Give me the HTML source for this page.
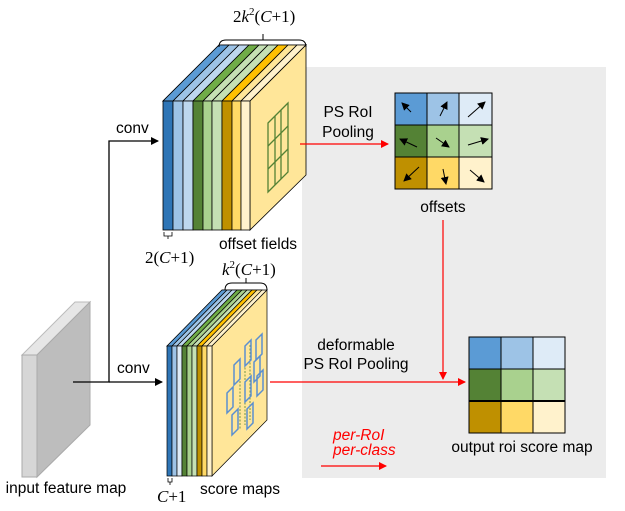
<!DOCTYPE html>
<html><head><meta charset="utf-8"><style>
body{margin:0;background:#fff}
svg{display:block}
text{font-family:"Liberation Sans",sans-serif;font-size:15.5px;fill:#000}
.s{font-family:"Liberation Serif",serif;font-size:17px}
</style></head><body>
<svg width="625" height="511" viewBox="0 0 625 511" xmlns="http://www.w3.org/2000/svg">
<defs>
<marker id="ak" markerWidth="8" markerHeight="8" refX="7" refY="4" orient="auto" markerUnits="userSpaceOnUse"><path d="M0,0 L8,4 L0,8z" fill="#000"/></marker>
<marker id="ar" markerWidth="8" markerHeight="8" refX="7" refY="4" orient="auto" markerUnits="userSpaceOnUse"><path d="M0,0 L8,4 L0,8z" fill="red"/></marker>
</defs>
<rect x="302" y="67" width="304" height="411" fill="#ececec"/>

<!-- input feature map -->
<polygon points="22,355 37,355 90,302 75,302" fill="#e6e6e6" stroke="#bbb"/>
<polygon points="37,355 90,302 90,425 37,477" fill="#bdbdbd" stroke="#aaa"/>
<rect x="22" y="355" width="15" height="122" fill="#d6d6d6" stroke="#aaa"/>
<text x="66" y="493" text-anchor="middle">input feature map</text>

<!-- conv connectors -->
<polyline points="73,382 109,382 109,141 158,141" fill="none" stroke="#000" stroke-width="1.3" marker-end="url(#ak)"/>
<line x1="109" y1="382" x2="162" y2="382" stroke="#000" stroke-width="1.3" marker-end="url(#ak)"/>
<text x="116" y="133">conv</text>
<text x="117" y="373">conv</text>

<!-- top block -->
<g stroke="#000" stroke-width="0.8">
<polygon points="163,101 250,101 306,45 219,45" fill="#fff"/>
<polygon points="163,101 173,101 229,45 219,45" fill="#5b9bd5"/>
<polygon points="173,101 183,101 239,45 229,45" fill="#9dc3e6"/>
<polygon points="183,101 193,101 249,45 239,45" fill="#bdd7ee"/>
<polygon points="193,101 203,101 259,45 249,45" fill="#70ad47"/>
<polygon points="203,101 212,101 268,45 259,45" fill="#c5e0b4"/>
<polygon points="212,101 222,101 278,45 268,45" fill="#c5e0b4"/>
<polygon points="222,101 232,101 288,45 278,45" fill="#ffc000"/>
<polygon points="232,101 241,101 297,45 288,45" fill="#ffe699"/>
<polygon points="241,101 250,101 306,45 297,45" fill="#fff2cc"/>
<polygon points="250,101 306,45 306,175 250,230" fill="#ffe699"/>
<rect x="163" y="101" width="10" height="129" fill="#2e75b6"/>
<rect x="173" y="101" width="10" height="129" fill="#9dc3e6"/>
<rect x="183" y="101" width="10" height="129" fill="#bdd7ee"/>
<rect x="193" y="101" width="10" height="129" fill="#548235"/>
<rect x="203" y="101" width="9" height="129" fill="#a9d18e"/>
<rect x="212" y="101" width="10" height="129" fill="#c5e0b4"/>
<rect x="222" y="101" width="10" height="129" fill="#bf9000"/>
<rect x="232" y="101" width="9" height="129" fill="#ffd966"/>
<rect x="241" y="101" width="9" height="129" fill="#fff2cc"/>
</g>
<g stroke="#548235" stroke-width="1.3" fill="none">
<polygon points="268,123 288,103 288,172 268,192"/>
<line x1="275" y1="116" x2="275" y2="185"/><line x1="281" y1="110" x2="281" y2="179"/>
<line x1="268" y1="146" x2="288" y2="126"/><line x1="268" y1="169" x2="288" y2="149"/>
</g>
<path d="M219,47 q0,-7 7,-7 h73 q7,0 7,7" fill="none" stroke="#000"/>
<line x1="263" y1="40" x2="263" y2="34" stroke="#000"/>
<text class="s" x="233" y="22">2<tspan font-style="italic">k</tspan><tspan font-size="11" dy="-7">2</tspan><tspan dy="7">(</tspan><tspan font-style="italic">C</tspan>+1)</text>
<path d="M164,232 v4 h8 v-4 M168,236 v3" fill="none" stroke="#000" stroke-width="0.8"/>
<text class="s" x="145" y="263">2(<tspan font-style="italic">C</tspan>+1)</text>
<text x="258" y="249" text-anchor="middle">offset fields</text>

<!-- bottom block -->
<g stroke="#000" stroke-width="0.7">
<polygon points="167,346 212,346 267,290 222,290" fill="#fff2cc"/>
<polygon points="167,346 172,346 227,290 222,290" fill="#5b9bd5"/>
<polygon points="172,346 177,346 232,290 227,290" fill="#9dc3e6"/>
<polygon points="177,346 182,346 237,290 232,290" fill="#bdd7ee"/>
<polygon points="182,346 187,346 242,290 237,290" fill="#70ad47"/>
<polygon points="187,346 192,346 247,290 242,290" fill="#a9d18e"/>
<polygon points="192,346 197,346 252,290 247,290" fill="#c5e0b4"/>
<polygon points="197,346 202,346 257,290 252,290" fill="#ffc000"/>
<polygon points="202,346 207,346 262,290 257,290" fill="#ffe699"/>
<polygon points="212,346 267,290 267,420 212,476" fill="#ffe699"/>
<rect x="167" y="346" width="5" height="130" fill="#2e75b6"/>
<rect x="172" y="346" width="5" height="130" fill="#9dc3e6"/>
<rect x="177" y="346" width="5" height="130" fill="#deebf7"/>
<rect x="182" y="346" width="5" height="130" fill="#548235"/>
<rect x="187" y="346" width="5" height="130" fill="#a9d18e"/>
<rect x="192" y="346" width="5" height="130" fill="#c5e0b4"/>
<rect x="197" y="346" width="5" height="130" fill="#bf9000"/>
<rect x="202" y="346" width="5" height="130" fill="#ffd966"/>
<rect x="207" y="346" width="5" height="130" fill="#fff2cc"/>
</g>
<g stroke="#548235" stroke-width="0.8" stroke-dasharray="2,1.5" fill="none">
<line x1="240" y1="360" x2="240" y2="430"/><line x1="245" y1="350" x2="245" y2="425"/><line x1="250" y1="345" x2="250" y2="420"/>
</g>
<g stroke="#5b8fd0" stroke-width="1.5" fill="none">
<polygon points="245,346 251,340 251,360 245,366"/>
<polygon points="256,340 262,334 262,354 256,360"/>
<polygon points="234,365 240,359 240,379 234,385"/>
<polygon points="254,362 260,356 260,376 254,382"/>
<polygon points="227,393 233,387 233,407 227,413"/>
<polygon points="245,382 251,376 251,396 245,402"/>
<polygon points="257,376 263,370 263,390 257,396"/>
<polygon points="232,415 238,409 238,429 232,435"/>
<polygon points="247,409 253,403 253,423 247,429"/>
</g>
<path d="M225,290 q0,-7 7,-7 h28 q7,0 7,7" fill="none" stroke="#000"/>
<line x1="246" y1="283" x2="246" y2="278" stroke="#000"/>
<text class="s" x="222" y="275"><tspan font-style="italic">k</tspan><tspan font-size="11" dy="-7">2</tspan><tspan dy="7">(</tspan><tspan font-style="italic">C</tspan>+1)</text>
<path d="M168,478 v4 h4 v-4 M170,482 v3" fill="none" stroke="#000" stroke-width="0.8"/>
<text class="s" x="157" y="502"><tspan font-style="italic">C</tspan>+1</text>
<text x="240" y="494" text-anchor="middle">score maps</text>

<!-- offsets grid -->
<g stroke="#000" stroke-width="1">
<rect x="395" y="93" width="32" height="32" fill="#5b9bd5"/>
<rect x="427" y="93" width="32" height="32" fill="#9dc3e6"/>
<rect x="459" y="93" width="33" height="32" fill="#deebf7"/>
<rect x="395" y="125" width="32" height="32" fill="#548235"/>
<rect x="427" y="125" width="32" height="32" fill="#a9d18e"/>
<rect x="459" y="125" width="33" height="32" fill="#c5e0b4"/>
<rect x="395" y="157" width="32" height="32" fill="#bf9000"/>
<rect x="427" y="157" width="32" height="32" fill="#ffd966"/>
<rect x="459" y="157" width="33" height="32" fill="#fff2cc"/>
</g>
<g stroke="#000" stroke-width="1" marker-end="url(#ak)">
<line x1="411" y1="112" x2="402" y2="103"/>
<line x1="440" y1="116" x2="447" y2="102"/>
<line x1="468" y1="117" x2="485" y2="102"/>
<line x1="417" y1="147" x2="400" y2="139"/>
<line x1="436" y1="138" x2="449" y2="147"/>
<line x1="468" y1="145" x2="488" y2="139"/>
<line x1="419" y1="167" x2="404" y2="181"/>
<line x1="443" y1="169" x2="446" y2="184"/>
<line x1="470" y1="170" x2="484" y2="182"/>
</g>
<line x1="300" y1="144" x2="388" y2="144" stroke="red" stroke-width="1.3" marker-end="url(#ar)"/>
<text x="348" y="117" text-anchor="middle">PS RoI</text>
<text x="348" y="137" text-anchor="middle">Pooling</text>
<text x="443" y="212" text-anchor="middle">offsets</text>
<line x1="443" y1="220" x2="443" y2="379" stroke="red" stroke-width="1.2" marker-end="url(#ar)"/>

<!-- output grid -->
<g stroke="#000" stroke-width="1">
<rect x="469" y="337" width="32" height="32" fill="#5b9bd5"/>
<rect x="501" y="337" width="32" height="32" fill="#9dc3e6"/>
<rect x="533" y="337" width="32" height="32" fill="#deebf7"/>
<rect x="469" y="369" width="32" height="32" fill="#548235"/>
<rect x="501" y="369" width="32" height="32" fill="#a9d18e"/>
<rect x="533" y="369" width="32" height="32" fill="#c5e0b4"/>
<rect x="469" y="401" width="32" height="32" fill="#bf9000"/>
<rect x="501" y="401" width="32" height="32" fill="#ffd966"/>
<rect x="533" y="401" width="32" height="32" fill="#fff2cc"/>
</g>
<line x1="469" y1="401" x2="565" y2="401" stroke="#000" stroke-width="2"/>
<line x1="270" y1="382" x2="465" y2="382" stroke="red" stroke-width="1.3" marker-end="url(#ar)"/>
<text x="356" y="350" text-anchor="middle">deformable</text>
<text x="356" y="369" text-anchor="middle">PS RoI Pooling</text>
<text x="522" y="452" text-anchor="middle">output roi score map</text>
<text x="333" y="440" font-style="italic" font-size="13" style="fill:red">per-RoI</text>
<text x="333" y="455" font-style="italic" font-size="13" style="fill:red">per-class</text>
<line x1="321" y1="466" x2="386" y2="466" stroke="red" stroke-width="1.3" marker-end="url(#ar)"/>
</svg>
</body></html>
